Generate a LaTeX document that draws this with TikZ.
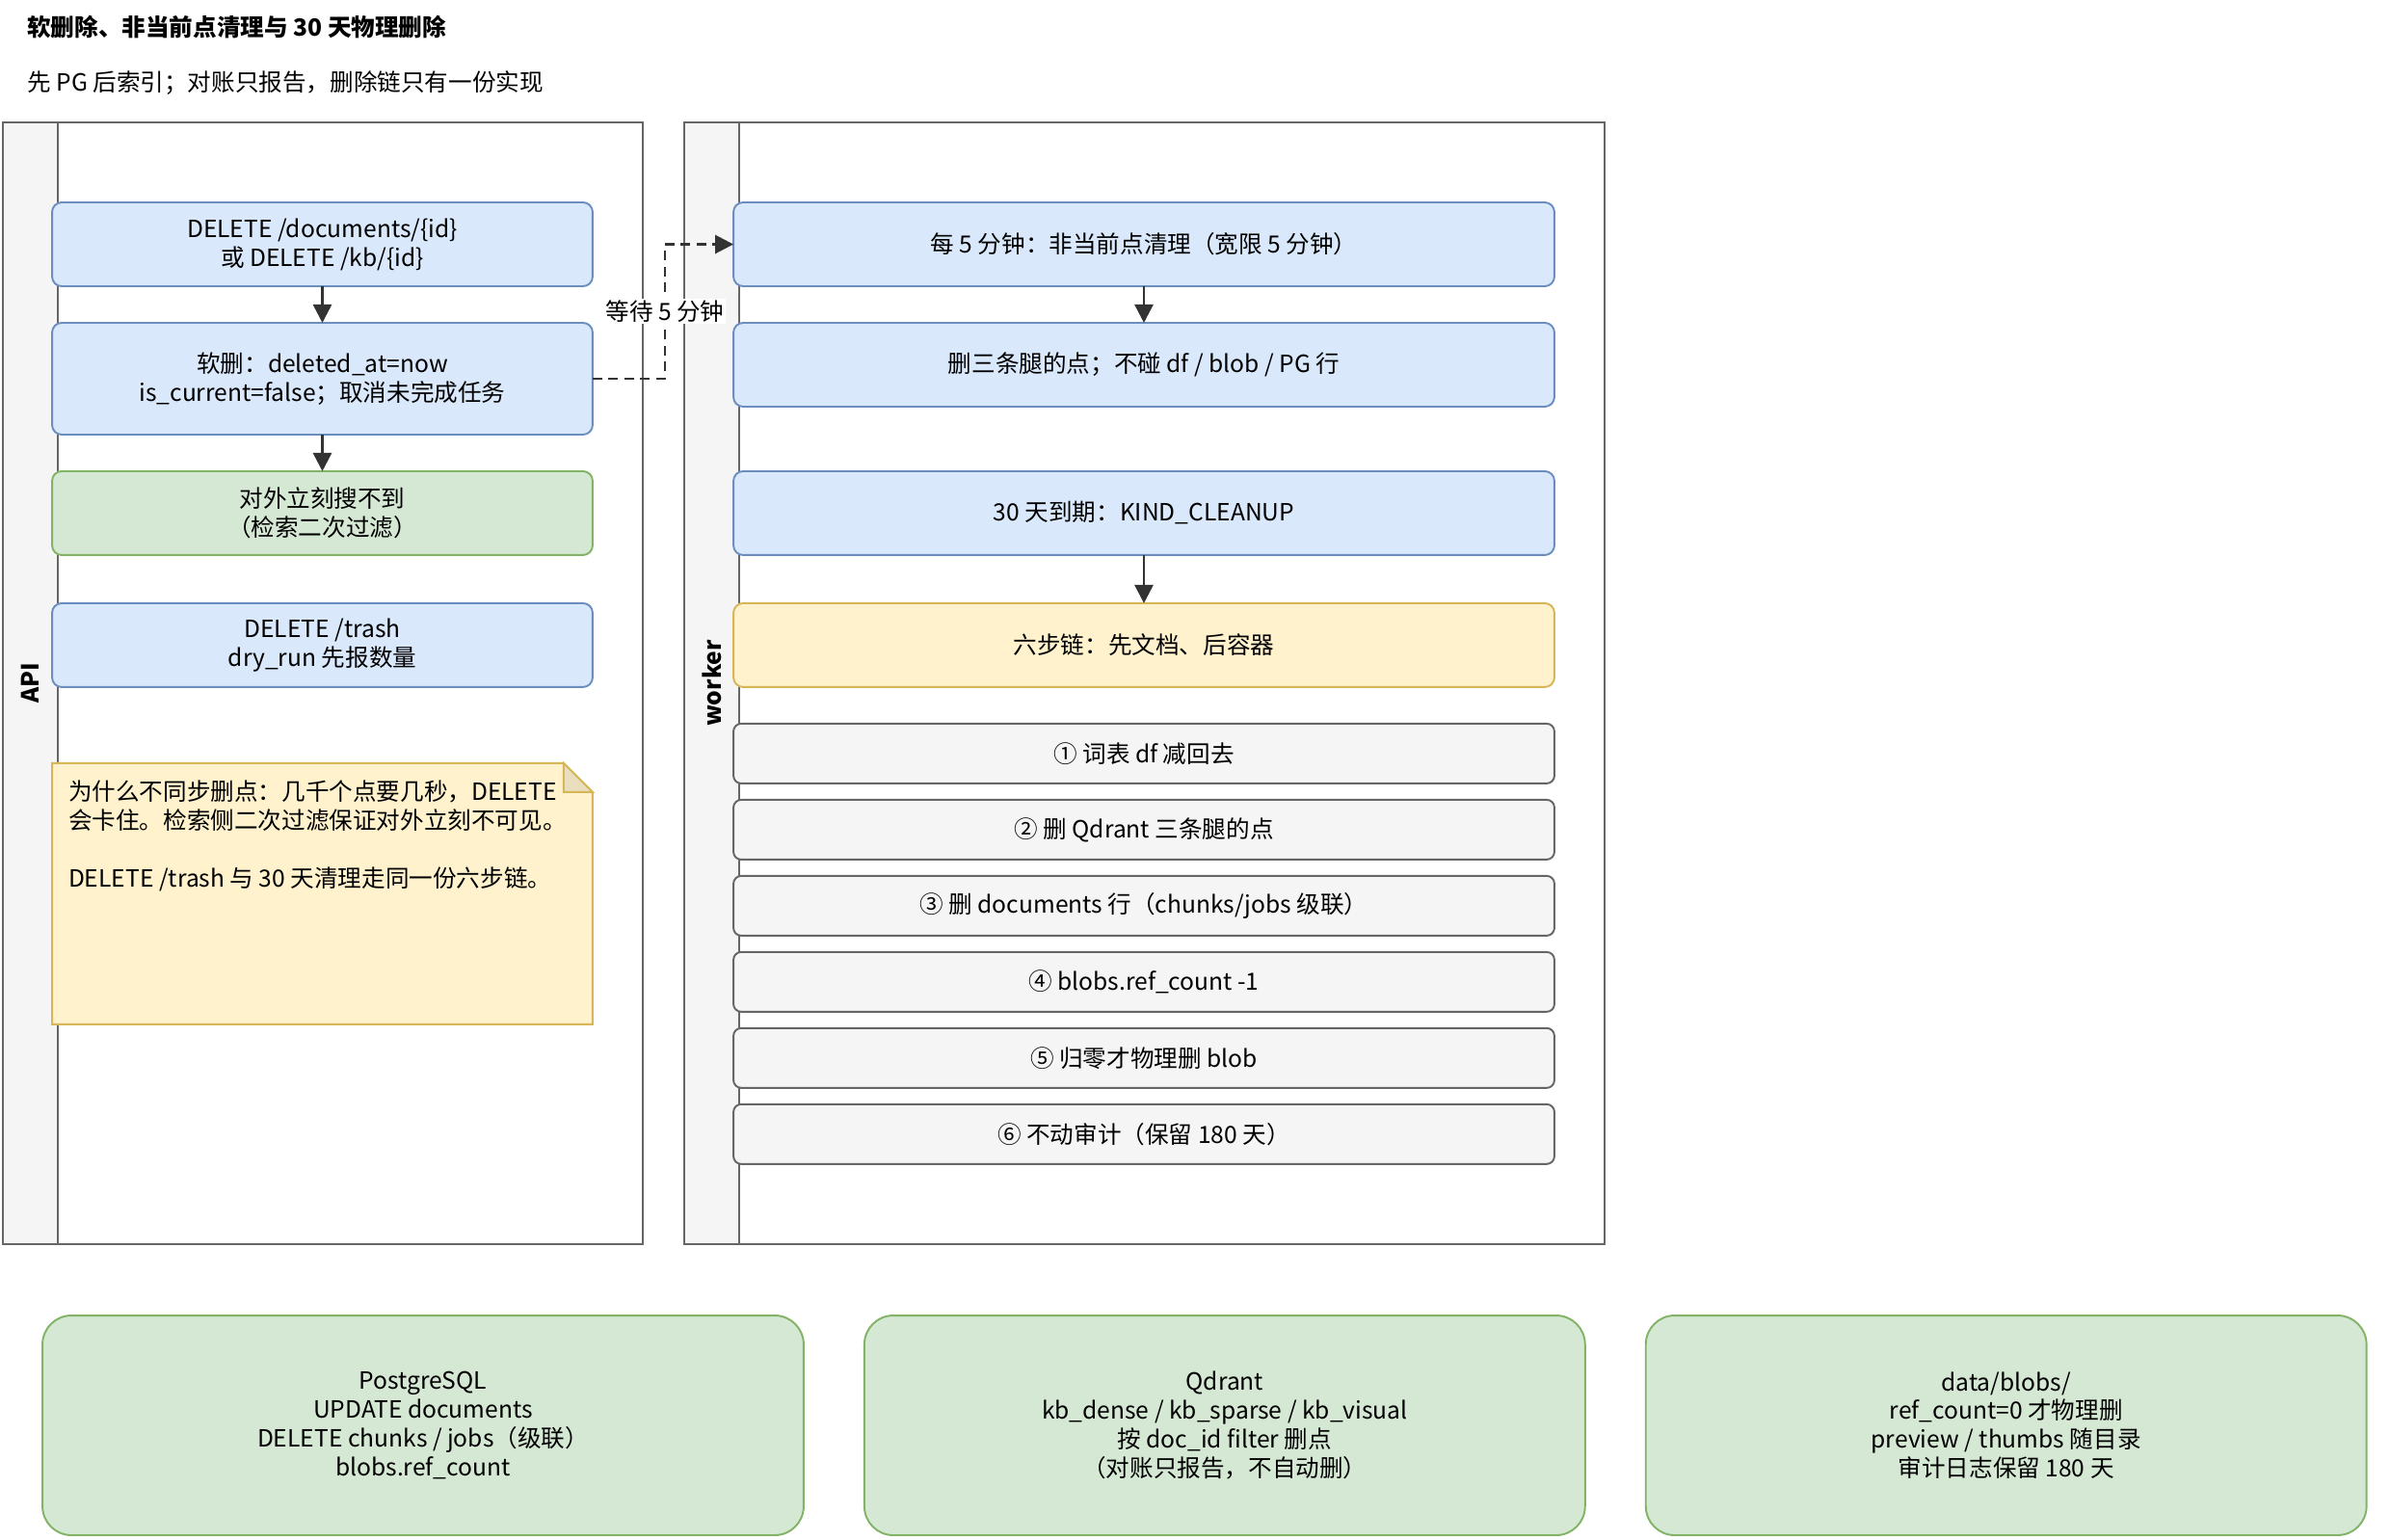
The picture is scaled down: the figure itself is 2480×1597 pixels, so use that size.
\documentclass[tikz,border=0pt]{standalone}
\usepackage{fontspec}
\setmainfont{Noto Sans CJK SC}
\usepackage{graphicx}
\usetikzlibrary{arrows.meta,positioning,calc,backgrounds}

\definecolor{blueFill}{HTML}{DAE8FC}
\definecolor{blueLine}{HTML}{6C8EBF}
\definecolor{greenFill}{HTML}{D5E8D4}
\definecolor{greenLine}{HTML}{82B366}
\definecolor{yellowFill}{HTML}{FFF2CC}
\definecolor{yellowLine}{HTML}{D6B656}
\definecolor{yellowFold}{HTML}{E9DFBE}
\definecolor{grayFill}{HTML}{F5F5F5}
\definecolor{grayLine}{HTML}{666666}
\definecolor{arrowInk}{HTML}{333333}

\begin{document}
\begin{tikzpicture}[
  x=0.02cm, y=-0.02cm,
  node distance=0.76cm,
  every node/.style={font=\fontsize{14}{17}\selectfont},
  pool/.style={draw=grayLine, line width=1.1pt, minimum width=13.28cm, minimum height=23.28cm, inner sep=0pt},
  poolhead/.style={draw=grayLine, fill=grayFill, line width=1.1pt, minimum width=1.14cm, minimum height=23.28cm, inner sep=0pt, font=\fontsize{14}{17}\selectfont\bfseries},
  box/.style={draw=blueLine, fill=blueFill, rounded corners=0.2cm, line width=1.1pt, align=center, minimum width=11.22cm, minimum height=1.74cm, inner sep=2pt, outer sep=0pt},
  okbox/.style={box, draw=greenLine, fill=greenFill},
  job/.style={box, minimum width=17.04cm},
  chainbox/.style={job, draw=yellowLine, fill=yellowFill},
  stepbox/.style={job, draw=grayLine, fill=grayFill, minimum height=1.24cm, rounded corners=0.16cm},
  store/.style={box, draw=greenLine, fill=greenFill, minimum width=14.96cm, minimum height=4.56cm, rounded corners=0.6cm},
  flow/.style={-{Triangle[length=0.38cm,width=0.38cm]}, draw=arrowInk, line width=1.5pt},
  flowdash/.style={flow, dash pattern=on 0.2cm off 0.13cm},
  wait/.style={fill=white, inner sep=1pt}
]
\useasboundingbox (0,0) rectangle (2480,1597);

% title
\node[anchor=west, inner sep=0pt, font=\fontsize{14}{17}\selectfont\bfseries] (title) at (28,28) {软删除、非当前点清理与 30 天物理删除};
\node[anchor=west, inner sep=0pt] (subtitle) at (28,86) {先 PG 后索引；对账只报告，删除链只有一份实现};

% lanes
\begin{scope}[on background layer]
\node[pool] (apipool) at (335,709) {};
\node[poolhead, anchor=west] (apihead) at (apipool.west) {\rotatebox{90}{API}};
\node[pool, minimum width=19.1cm] (workpool) at (1187.5,709) {};
\node[poolhead, anchor=west] (workhead) at (workpool.west) {\rotatebox{90}{worker}};
\end{scope}

% API side
\node[box] (del) at (334.5,253.5) {DELETE /documents/\{id\}\\或 DELETE /kb/\{id\}};
\node[box, below=of del, minimum height=2.32cm] (soft) {软删：deleted\_at=now\\is\_current=false；取消未完成任务};
\node[okbox, below=of soft] (hidden) {对外立刻搜不到\\（检索二次过滤）};
\node[box, below=1.0cm of hidden] (trash) {DELETE /trash\\dry\_run 先报数量};
\node[below=1.58cm of trash, minimum width=11.22cm, minimum height=5.42cm, inner xsep=0.34cm, inner ysep=0.36cm, outer sep=0pt] (why)
  {\parbox[c][4.7cm][t]{10.54cm}{为什么不同步删点：几千个点要几秒，DELETE\\会卡住。检索侧二次过滤保证对外立刻不可见。\\[17pt]DELETE /trash 与 30 天清理走同一份六步链。}};
\begin{scope}[on background layer]
\draw[draw=yellowLine, fill=yellowFill, line width=1.1pt] (why.north west) -- ([xshift=-0.6cm]why.north east) -- ([yshift=-0.6cm]why.north east) -- (why.south east) -- (why.south west) -- cycle;
\draw[draw=yellowLine, fill=yellowFold, line width=1.1pt] ([xshift=-0.6cm]why.north east) -- ([xshift=-0.6cm,yshift=-0.6cm]why.north east) -- ([yshift=-0.6cm]why.north east) -- cycle;
\end{scope}

% worker side
\node[job] (sweep) at (1187,253.5) {每 5 分钟：非当前点清理（宽限 5 分钟）};
\node[job, below=of sweep] (legs) {删三条腿的点；不碰 df / blob / PG 行};
\node[job, below=1.34cm of legs] (expire) {30 天到期：KIND\_CLEANUP};
\node[chainbox, below=1.0cm of expire] (chain) {六步链：先文档、后容器};
\node[stepbox, below=of chain] (s1) {① 词表 df 减回去};
\node[stepbox, below=0.34cm of s1] (s2) {② 删 Qdrant 三条腿的点};
\node[stepbox, below=0.34cm of s2] (s3) {③ 删 documents 行（chunks/jobs 级联）};
\node[stepbox, below=0.34cm of s3] (s4) {④ blobs.ref\_count -1};
\node[stepbox, below=0.34cm of s4] (s5) {⑤ 归零才物理删 blob};
\node[stepbox, below=0.34cm of s5] (s6) {⑥ 不动审计（保留 180 天）};

% stores
\node[store, minimum width=15.8cm] (pg) at (439,1479) {PostgreSQL\\UPDATE documents\\DELETE chunks / jobs（级联）\\blobs.ref\_count};
\node[store, right=1.26cm of pg] (qd) {Qdrant\\kb\_dense / kb\_sparse / kb\_visual\\按 doc\_id filter 删点\\（对账只报告，不自动删）};
\node[store, right=1.26cm of qd] (blobs) {data/blobs/\\ref\_count=0 才物理删\\preview / thumbs 随目录\\审计日志保留 180 天};

\draw[flow] (del) -- (soft);
\draw[flow] (soft) -- (hidden);
\draw[flow] (sweep) -- (legs);
\draw[flow] (expire) -- (chain);
\draw[flowdash] (soft.east) -- ++(1.5cm,0) |- node[wait, pos=0.25] {等待 5 分钟} (sweep.west);
\end{tikzpicture}
\end{document}
